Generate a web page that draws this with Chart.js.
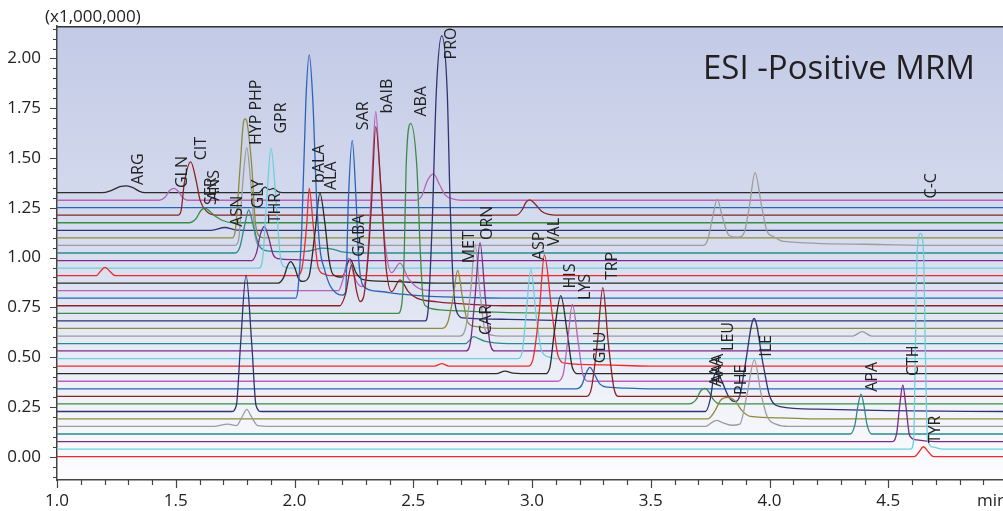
<!DOCTYPE html>
<html>
<head>
<meta charset="utf-8">
<script src="https://cdn.jsdelivr.net/npm/chart.js@4.4.1/dist/chart.umd.min.js"></script>
<style>
  html, body { margin: 0; padding: 0; background: #fff; }
  canvas { display: block; }
</style>
</head>
<body>
<canvas id="mrm" width="1003" height="511"></canvas>
<script>
// tick labels
const xTickValues = [1.0, 1.5, 2.0, 2.5, 3.0, 3.5, 4.0, 4.5];
const yTickValues = [0.00, 0.25, 0.50, 0.75, 1.00, 1.25, 1.50, 1.75, 2.00];

// baseline level of each trace (bottom to top), x1,000,000
const baselines = [0.000, 0.038, 0.076, 0.114, 0.152, 0.190, 0.227, 0.265, 0.303, 0.341, 0.379, 0.417,
                   0.455, 0.493, 0.531, 0.568, 0.606, 0.644, 0.682, 0.720, 0.758, 0.796, 0.834, 0.872,
                   0.909, 0.947, 0.985, 1.023, 1.061, 1.099, 1.137, 1.175, 1.213, 1.251, 1.288, 1.326];

// traces: [time (min), intensity above baseline]
const s00 = [[1.0,0],[4.61,0],[4.63,0.025],[4.648,0.05],[4.668,0.025],[4.69,0],[5.0,0]];
const s01 = [[1.0,0],[4.595,0],[4.607,0.05],[4.614,0.5],[4.622,1.0],[4.636,1.084],[4.648,1.0],[4.656,0.5],[4.665,0.05],[4.69,0.01],[4.73,0],[5.0,0]];
const s02 = [[1.0,0],[4.515,0],[4.535,0.04],[4.548,0.18],[4.561,0.284],[4.574,0.18],[4.59,0.03],[4.62,0.008],[4.70,0],[5.0,0]];
const s03 = [[1.0,0],[4.34,0],[4.36,0.05],[4.372,0.14],[4.385,0.2],[4.398,0.14],[4.41,0.05],[4.43,0],[5.0,0]];
const s04 = [[1.0,0],[1.66,0],[1.72,0.012],[1.755,0.004],[1.78,0.05],[1.799,0.086],[1.818,0.05],[1.845,0.004],[1.9,0],
             [3.73,0],[3.76,0.022],[3.778,0.03],[3.80,0.02],[3.84,0.006],[3.875,0.012],[3.905,0.16],[3.936,0.334],[3.965,0.16],[3.99,0.05],[4.03,0.01],[4.08,0],[5.0,0]];
const s05 = [[1.0,0],[3.74,0],[3.77,0.04],[3.795,0.095],[3.825,0.108],[3.855,0.09],[3.885,0.04],[3.92,0.012],[4.05,0.005],[4.2,0],[5.0,0]];
const s06 = [[1.0,0],[1.735,0],[1.755,0.03],[1.773,0.34],[1.796,0.685],[1.82,0.34],[1.838,0.03],[1.86,0],
             [3.73,0],[3.75,0.06],[3.765,0.17],[3.778,0.2],[3.80,0.15],[3.83,0.07],[3.855,0.05],[3.875,0.08],[3.897,0.23],[3.935,0.467],[3.974,0.23],[4.0,0.08],[4.044,0.025],[4.2,0.012],[4.5,0.004],[5.0,0]];
const s07 = [[1.0,0],[3.66,0],[3.69,0.02],[3.71,0.065],[3.728,0.078],[3.745,0.06],[3.765,0.02],[3.79,0],[5.0,0]];
const s08 = [[1.0,0],[3.23,0],[3.25,0.04],[3.275,0.27],[3.298,0.546],[3.321,0.27],[3.345,0.04],[3.365,0],[5.0,0]];
const s09 = [[1.0,0],[3.185,0],[3.21,0.02],[3.228,0.08],[3.244,0.108],[3.262,0.075],[3.285,0.025],[3.32,0.008],[3.4,0.003],[3.5,0],[5.0,0]];
const s10 = [[1.0,0],[3.105,0],[3.13,0.03],[3.149,0.19],[3.17,0.386],[3.195,0.19],[3.215,0.03],[3.24,0],[5.0,0]];
const s11 = [[1.0,0],[2.85,0],[2.886,0.013],[2.92,0.003],[3.0,0],[3.055,0],[3.075,0.03],[3.093,0.2],[3.121,0.392],[3.149,0.2],[3.17,0.03],[3.195,0],[5.0,0]];
const s12 = [[1.0,0],[2.59,0],[2.62,0.012],[2.65,0],[2.985,0],[3.005,0.04],[3.031,0.28],[3.052,0.558],[3.083,0.28],[3.11,0.05],[3.14,0.015],[3.3,0.006],[3.5,0],[5.0,0]];
const s13 = [[1.0,0],[2.94,0],[2.958,0.03],[2.975,0.22],[2.995,0.449],[3.017,0.22],[3.04,0.04],[3.07,0.008],[3.1,0],[5.0,0]];
const s14 = [[1.0,0],[2.72,0],[2.74,0.04],[2.76,0.27],[2.781,0.544],[2.803,0.27],[2.823,0.04],[2.845,0],[5.0,0]];
const s15 = [[1.0,0],[2.72,0],[2.74,0.02],[2.753,0.035],[2.77,0.028],[2.8,0.012],[2.84,0.004],[2.9,0],[5.0,0]];
const s16 = [[1.0,0],[2.695,0],[2.72,0.04],[2.742,0.23],[2.76,0.462],[2.78,0.23],[2.8,0.04],[2.83,0.005],[2.87,0],[4.35,0],[4.39,0.022],[4.43,0],[5.0,0]];
const s17 = [[1.0,0],[2.62,0],[2.645,0.03],[2.667,0.15],[2.687,0.291],[2.708,0.15],[2.73,0.03],[2.76,0.01],[2.85,0],[5.0,0]];
const s18 = [[1.0,0],[2.55,0],[2.562,0.05],[2.58,0.5],[2.597,1.15],[2.62,1.432],[2.643,1.15],[2.655,0.6],[2.669,0.17],[2.685,0.04],[2.71,0.015],[2.9,0.008],[3.2,0],[5.0,0]];
const s19 = [[1.0,0],[2.435,0],[2.452,0.05],[2.462,0.3],[2.47,0.737],[2.489,0.954],[2.515,0.737],[2.53,0.3],[2.542,0.067],[2.555,0.035],[2.571,0.025],[2.7,0.012],[2.9,0.004],[3.2,0],[5.0,0]];
const s20 = [[1.0,0],[2.19,0],[2.215,0.06],[2.241,0.205],[2.262,0.07],[2.276,0.021],[2.29,0.04],[2.31,0.25],[2.325,0.53],[2.342,0.9],[2.367,0.53],[2.385,0.2],[2.409,0.071],[2.444,0.13],[2.48,0.07],[2.515,0.038],[2.6,0.02],[2.669,0.013],[2.9,0],[5.0,0]];
const s21 = [[1.0,0],[2.005,0],[2.015,0.05],[2.03,0.33],[2.048,0.996],[2.062,1.222],[2.077,0.996],[2.093,0.5],[2.107,0.25],[2.125,0.15],[2.149,0.065],[2.175,0.026],[2.2,0.015],
             [2.215,0.03],[2.227,0.5],[2.243,0.792],[2.259,0.5],[2.27,0.2],[2.29,0.06],[2.35,0.035],[2.45,0.02],[2.571,0.009],[2.75,0.003],[2.9,0],[5.0,0]];
const s22 = [[1.0,0],[2.185,0],[2.205,0.06],[2.227,0.163],[2.255,0.06],[2.283,0.02],[2.30,0.06],[2.315,0.3],[2.328,0.62],[2.342,0.9],[2.358,0.62],[2.38,0.25],[2.409,0.09],[2.444,0.138],[2.48,0.06],[2.53,0.008],[2.6,0],[5.0,0]];
const s23 = [[1.0,0],[1.93,0],[1.955,0.03],[1.97,0.085],[1.984,0.108],[2.0,0.08],[2.018,0.02],[2.035,0.008],[2.06,0.03],[2.086,0.25],[2.107,0.452],[2.128,0.3],[2.145,0.12],[2.163,0.042],
             [2.2,0.03],[2.234,0.12],[2.26,0.05],[2.29,0.017],[2.4,0.008],[2.6,0],[5.0,0]];
const s24 = [[1.0,0],[1.165,0],[1.185,0.025],[1.202,0.042],[1.22,0.025],[1.245,0],[2.01,0],[2.03,0.03],[2.051,0.25],[2.062,0.439],[2.079,0.25],[2.1,0.04],[2.125,0.008],[2.15,0],[5.0,0]];
const s25 = [[1.0,0],[1.85,0],[1.865,0.04],[1.883,0.343],[1.901,0.602],[1.922,0.343],[1.94,0.06],[1.955,0.008],[1.98,0],[5.0,0]];
const s26 = [[1.0,0],[1.82,0],[1.84,0.04],[1.856,0.13],[1.873,0.171],[1.89,0.12],[1.91,0.03],[1.93,0.01],[2.0,0.005],[2.1,0],[5.0,0]];
const s27 = [[1.0,0],[1.75,0],[1.77,0.03],[1.789,0.133],[1.807,0.216],[1.827,0.133],[1.85,0.04],[1.88,0.012],[1.95,0.007],[2.05,0.008],[2.09,0.018],[2.115,0.024],[2.16,0.02],[2.2,0.006],[2.3,0],[5.0,0]];
const s28 = [[1.0,0],[1.75,0],[1.765,0.03],[1.782,0.313],[1.799,0.491],[1.816,0.313],[1.835,0.04],[1.855,0],
             [3.72,0],[3.74,0.03],[3.761,0.145],[3.78,0.233],[3.801,0.145],[3.83,0.05],[3.869,0.042],[3.895,0.07],[3.915,0.195],[3.939,0.366],[3.967,0.195],[3.99,0.07],[4.016,0.045],[4.058,0.02],[4.4,0.006],[4.7,0],[5.0,0]];
const s29 = [[1.0,0],[1.74,0],[1.752,0.05],[1.771,0.358],[1.785,0.58],[1.792,0.598],[1.80,0.58],[1.82,0.358],[1.835,0.08],[1.85,0.01],[1.87,0],[5.0,0]];
const s30 = [[1.0,0],[1.65,0],[1.707,0.014],[1.75,0.002],[1.8,0],[5.0,0]];
const s31 = [[1.0,0],[1.555,0],[1.585,0.02],[1.605,0.06],[1.623,0.074],[1.645,0.055],[1.67,0.03],[1.7,0.01],[1.74,0],[5.0,0]];
const s32 = [[1.0,0],[1.51,0],[1.522,0.02],[1.536,0.161],[1.563,0.268],[1.588,0.161],[1.602,0.077],[1.63,0.019],[1.67,0],
             [2.935,0],[2.96,0.03],[2.975,0.065],[2.99,0.077],[3.01,0.06],[3.04,0.02],[3.07,0.004],[3.1,0],[5.0,0]];
const s33 = [[1.0,0],[5.0,0]];
const s34 = [[1.0,0],[1.43,0],[1.455,0.015],[1.475,0.05],[1.493,0.06],[1.51,0.045],[1.53,0.012],[1.55,0],
             [2.51,0],[2.535,0.02],[2.56,0.1],[2.585,0.132],[2.61,0.08],[2.634,0.027],[2.67,0.005],[2.7,0],[5.0,0]];
const s35 = [[1.0,0],[1.19,0],[1.23,0.012],[1.265,0.03],[1.293,0.034],[1.32,0.025],[1.345,0.008],[1.37,0],
             [1.85,0],[1.875,0.028],[1.895,0.015],[1.91,0.022],[1.93,0.005],[1.95,0],[5.0,0]];

const traces = [s00,s01,s02,s03,s04,s05,s06,s07,s08,s09,s10,s11,s12,s13,s14,s15,s16,s17,
                s18,s19,s20,s21,s22,s23,s24,s25,s26,s27,s28,s29,s30,s31,s32,s33,s34,s35];

// compound labels: name, time, level where the (vertical) text starts
const peakNames  = ['ARG','GLN','CIT','SER','ANS','ASN','HYP PHP','GLY','THR','GPR','bALA','ALA','SAR','bAIB','ABA','PRO',
                    'GABA','MET','ORN','CAR','ASP','VAL','HIS','LYS','GLU','TRP','AAA','AAA','LEU','PHE','ILE','APA','CTH','TYR','C-C'];
const peakTimes  = [1.341,1.529,1.609,1.652,1.664,1.760,1.841,1.848,1.918,1.946,2.103,2.154,2.290,2.392,2.536,2.662,
                    2.273,2.735,2.811,2.809,3.031,3.093,3.163,3.223,3.289,3.340,3.778,3.786,3.825,3.883,3.985,4.433,4.608,4.697,4.683];
const peakLevels = [1.364,1.349,1.489,1.264,1.285,1.155,1.565,1.247,1.172,1.623,1.375,1.339,1.640,1.724,1.708,1.995,
                    1.004,0.971,1.088,0.611,0.987,1.058,0.845,0.787,0.469,0.887,0.351,0.365,0.531,0.310,0.502,0.326,0.405,0.067,1.297];

const palette = ['#f02a2a','#6ccfdc','#7b2c8b','#2b8a8a','#9c9c9c','#8d8a3c',
                 '#2e3372','#3b8b45','#8b2323','#2b63b9','#b862b9','#2b2b2b'];

const datasets = traces.map((pts, i) => ({
  data: pts.map(p => ({ x: p[0], y: baselines[i] + p[1] })),
  borderColor: palette[i % 12],
  borderWidth: 1.3,
  pointRadius: 0,
  cubicInterpolationMode: 'monotone',
  fill: false
}));

const decor = {
  id: 'decor',
  beforeDraw(chart) {
    const { ctx, chartArea: a } = chart;
    const g = ctx.createLinearGradient(0, a.top, 0, a.bottom);
    g.addColorStop(0, '#c2cae6');
    g.addColorStop(0.5, '#d8deef');
    g.addColorStop(1, '#fdfdfe');
    ctx.save();
    ctx.fillStyle = g;
    ctx.fillRect(a.left, a.top, a.right - a.left, a.bottom - a.top);
    ctx.restore();
  },
  afterDraw(chart) {
    const { ctx, chartArea: a, scales: { x, y } } = chart;
    ctx.save();
    // top frame line
    ctx.strokeStyle = '#333';
    ctx.lineWidth = 1.5;
    ctx.beginPath();
    ctx.moveTo(a.left, a.top + 0.5);
    ctx.lineTo(a.right, a.top + 0.5);
    ctx.stroke();

    // tick marks, major + minor
    ctx.lineWidth = 1.2;
    ctx.strokeStyle = '#444';
    ctx.beginPath();
    for (let k = -2; k <= 43; k++) {
      const py = Math.round(y.getPixelForValue(k * 0.05)) + 0.5;
      const len = k % 5 === 0 ? 7 : 4;
      ctx.moveTo(a.left - len, py);
      ctx.lineTo(a.left, py);
    }
    for (let k = 10; k <= 49; k++) {
      const px = Math.round(x.getPixelForValue(k / 10)) + 0.5;
      const len = k % 5 === 0 ? 8 : 5;
      ctx.moveTo(px, a.bottom);
      ctx.lineTo(px, a.bottom + len);
    }
    ctx.stroke();

    // peak labels
    ctx.fillStyle = '#222';
    ctx.font = '16px "Open Sans"';
    ctx.textAlign = 'left';
    ctx.textBaseline = 'middle';
    peakNames.forEach((name, i) => {
      ctx.save();
      ctx.beginPath();
      ctx.rect(a.left, a.top, a.right - a.left, a.bottom - a.top);
      ctx.clip();
      ctx.translate(x.getPixelForValue(peakTimes[i]), y.getPixelForValue(peakLevels[i]));
      ctx.rotate(-Math.PI / 2);
      ctx.fillText(name, 0, 0);
      ctx.restore();
    });

    // title in plot
    ctx.font = '33px "Open Sans"';
    ctx.textBaseline = 'alphabetic';
    ctx.fillStyle = '#231f20';
    ctx.fillText('ESI -Positive MRM', 703, 79);

    // axis captions
    ctx.font = '17px "Open Sans"';
    ctx.fillStyle = '#222';
    ctx.fillText('(x1,000,000)', 45, 22);
    ctx.fillText('min', 977, 506);
    ctx.restore();
  }
};

Chart.defaults.font.family = '"Open Sans"';
Chart.defaults.color = '#222';

new Chart(document.getElementById('mrm'), {
  type: 'line',
  data: { datasets },
  options: {
    responsive: false,
    animation: false,
    devicePixelRatio: 1,
    layout: { padding: { top: 26, right: 0, left: 0, bottom: 0 } },
    plugins: { legend: { display: false }, tooltip: { enabled: false } },
    scales: {
      x: {
        type: 'linear',
        min: 1.0,
        max: 4.983,
        grid: { display: false, drawTicks: false },
        border: { display: true, color: '#444', width: 1.5 },
        afterBuildTicks: s => { s.ticks = xTickValues.map(v => ({ value: v })); },
        afterFit: s => { s.height = 31; },
        ticks: { font: { size: 17 }, padding: 11, maxRotation: 0, autoSkip: false,
                 callback: v => Number(v).toFixed(1) }
      },
      y: {
        type: 'linear',
        min: -0.117,
        max: 2.162,
        grid: { display: false, drawTicks: false },
        border: { display: true, color: '#444', width: 1.5 },
        afterBuildTicks: s => { s.ticks = yTickValues.map(v => ({ value: v })); },
        afterFit: s => { s.width = 57; },
        ticks: { font: { size: 17 }, padding: 16, autoSkip: false,
                 callback: v => Number(v).toFixed(2) }
      }
    }
  },
  plugins: [decor]
});
</script>
</body>
</html>
